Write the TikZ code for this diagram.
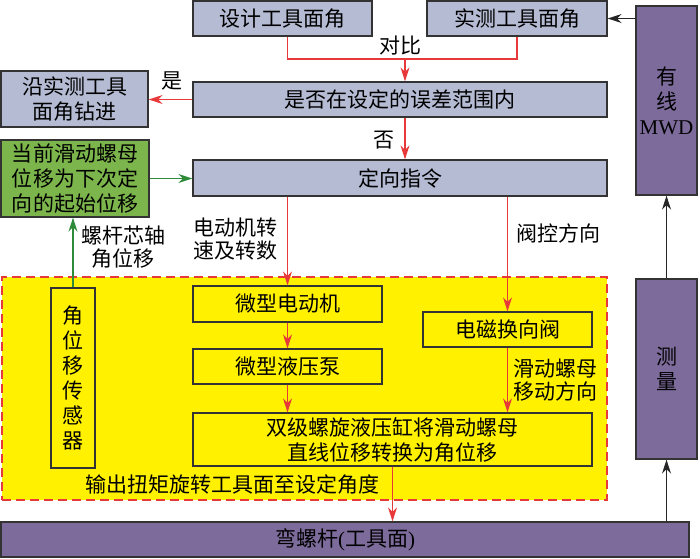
\documentclass[tikz,border=0pt]{standalone}
\usepackage{fontspec}
\setmainfont{Liberation Serif}
\newfontfamily\cjk{Noto Sans CJK SC}
\usetikzlibrary{arrows.meta}
\definecolor{gris}{HTML}{B4BBD3}
\definecolor{mauve}{HTML}{7D6B9B}
\definecolor{vert}{HTML}{7BB54B}
\definecolor{jaune}{HTML}{FFF100}
\definecolor{rouge}{HTML}{E8393A}
\definecolor{vertfonce}{HTML}{2E8B3A}

\begin{document}
\begin{tikzpicture}[x=1pt,y=-1pt]
\tikzset{boite/.style={draw=black!80, fill=gris, line width=1.3pt, inner sep=0pt, align=center, font=\cjk\fontsize{21}{25}\selectfont}}
\tikzset{boitemauve/.style={boite, fill=mauve}}
\tikzset{boiteverte/.style={boite, fill=vert}}
\tikzset{boitejaune/.style={boite, fill=jaune}}
\tikzset{etiquette/.style={inner sep=0pt, align=center, font=\cjk\fontsize{21}{23}\selectfont}}
\tikzset{rougefleche/.style={draw=rouge, fill=rouge, line width=1.3pt, -{Stealth[length=14pt,width=9pt]}}}
\tikzset{vertfleche/.style={draw=vertfonce, fill=vertfonce, line width=1.3pt, -{Stealth[length=14pt,width=9pt]}}}
\tikzset{noirfleche/.style={draw=black!85, fill=black!85, line width=1.3pt, -{Stealth[length=14pt,width=9pt]}}}
\useasboundingbox (0,0) rectangle (700,558);
\node[draw=rouge, fill=jaune, line width=1.3pt, dash pattern=on 9pt off 5pt, minimum width=605pt, minimum height=223pt, inner sep=0pt] (zone) at (304.5,388.5) {};
\node[boite, minimum width=179pt, minimum height=35pt] (design) at (282.5,18.5) {设计工具面角};
\node[boite, minimum width=180pt, minimum height=35pt] (measured) at (517,18.5) {实测工具面角};
\node[boitemauve, minimum width=61pt, minimum height=189pt] (mwd) at (666.5,100.5) {有\\线\\{\rmfamily MWD}};
\node[boite, minimum width=414pt, minimum height=35pt] (judge) at (400,99.5) {是否在设定的误差范围内};
\node[boite, minimum width=147pt, minimum height=56pt] (drill) at (74.5,99) {沿实测工具\\面角钻进};
\node[boite, minimum width=414pt, minimum height=36pt] (order) at (400,178) {定向指令};
\node[boiteverte, minimum width=148pt, minimum height=77pt] (green) at (75,178.5) {当前滑动螺母\\位移为下次定\\向的起始位移};
\node[boitejaune, minimum width=44pt, minimum height=180pt] (sensor) at (73,378) {角\\位\\移\\传\\感\\器};
\node[boitejaune, minimum width=189pt, minimum height=36pt] (motor) at (287.5,304) {微型电动机};
\node[boitejaune, minimum width=189pt, minimum height=35pt] (pump) at (287.5,366.5) {微型液压泵};
\node[boitejaune, minimum width=169pt, minimum height=35pt] (valve) at (507.5,329.5) {电磁换向阀};
\node[boitejaune, minimum width=399pt, minimum height=53pt] (cylinder) at (392.5,439.5) {双级螺旋液压缸将滑动螺母\\直线位移转换为角位移};
\node[boitemauve, minimum width=688pt, minimum height=35pt] (screw) at (345,539.5) {弯螺杆{\rmfamily (}工具面{\rmfamily )}};
\node[boitemauve, minimum width=61pt, minimum height=180pt] (measure) at (666.5,369) {测\\量};
\node[etiquette] (dui) at (400,46) {对比};
\node[etiquette] (shi) at (172,81) {是};
\node[etiquette] (fou) at (384,140) {否};
\node[etiquette] (vitesse) at (235,239) {电动机转\\速及转数};
\node[etiquette] (angle) at (123,247) {螺杆芯轴\\角位移};
\node[etiquette] (vanne) at (558,233) {阀控方向};
\node[etiquette] (sens) at (555,380) {滑动螺母\\移动方向};
\node[etiquette] (sortie) at (232,485) {输出扭矩旋转工具面至设定角度};
\coordinate (cmp) at (405,59);
\draw[rouge, line width=1.3pt] (design.south -| motor.north) |- (cmp) -| (measured.south);
\draw[rougefleche] (cmp) -- (cmp |- judge.north);
\draw[rougefleche] (judge.south -| cmp) -- (order.north -| cmp);
\draw[rougefleche] (judge.west) -- (drill.east |- judge.west);
\draw[vertfleche] (green.east) -- (order.west |- green.east);
\draw[vertfleche] (sensor.north) -- (sensor.north |- green.south);
\draw[rougefleche] (order.south -| motor.north) -- (motor.north);
\draw[rougefleche] (motor) -- (pump);
\draw[rougefleche] (pump.south) -- (pump.south |- cylinder.north);
\draw[rougefleche] (order.south -| valve.north) -- (valve.north);
\draw[rougefleche] (valve.south) -- (valve.south |- cylinder.north);
\draw[rougefleche] (cylinder.south) -- (cylinder.south |- screw.north);
\draw[noirfleche] (screw.north -| measure.south) -- (measure.south);
\draw[noirfleche] (measure.north) -- (mwd.south);
\draw[noirfleche] (mwd.west |- measured.east) -- (measured.east);
\end{tikzpicture}
\end{document}
